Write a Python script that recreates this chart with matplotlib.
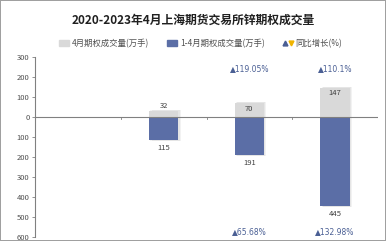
import numpy as np
import matplotlib.pyplot as plt
from matplotlib.lines import Line2D
from matplotlib.patches import Patch
from matplotlib.legend_handler import HandlerTuple

plt.rcParams['font.family'] = ['Noto Sans CJK SC', 'DejaVu Sans']

# data
years = ['2020', '2021', '2022', '2023']
apr_vol = [0, 32, 70, 147]          # 4月期权成交量(万手)
ytd_vol = [0, 115, 191, 445]        # 1-4月期权成交量(万手)
apr_yoy = [None, None, '119.05%', '110.1%']
ytd_yoy = [None, None, '65.68%', '132.98%']
yticks = [300, 200, 100, 0, -100, -200, -300, -400, -500, -600]

gray = '#d9d9d9'
blue = '#5b6ea6'
txt = '#404040'
anno = '#4a5f94'

fig = plt.figure(figsize=(3.86, 2.41), dpi=100)
fig.patch.set_edgecolor('#a0a0a0')
fig.patch.set_linewidth(1.2)
ax = fig.add_axes([0.091, 0.017, 0.888, 0.746])

x = np.arange(len(years))
w = 0.34
# soft shadow behind the bars
for i in x:
    if apr_vol[i]:
        for d, a in [(0.03, 0.05), (0.015, 0.05)]:
            ax.bar(i + d, apr_vol[i] + 4, w, color='#000000', alpha=a, zorder=1)
            ax.bar(i + d, -ytd_vol[i] - 5, w, color='#000000', alpha=a, zorder=1)
ax.bar(x, apr_vol, w, color=gray, zorder=2)
ax.bar(x, [-v for v in ytd_vol], w, color=blue, zorder=2)

for i in x:
    if not apr_vol[i]:
        continue
    if apr_vol[i] > 50:
        ax.text(i, apr_vol[i] - 8, str(apr_vol[i]), ha='center', va='top', fontsize=5.5, color=txt, zorder=3)
    else:
        ax.text(i, apr_vol[i] + 3, str(apr_vol[i]), ha='center', va='bottom', fontsize=5.5, color=txt, zorder=3)
    ax.text(i, -ytd_vol[i] - 18, str(ytd_vol[i]), ha='center', va='top', fontsize=5.5, color=txt, zorder=3)
    if apr_yoy[i]:
        ax.text(i, 245, '▲' + apr_yoy[i], ha='center', va='center', fontsize=5.5, color=anno,
                family=['DejaVu Sans'])
    if ytd_yoy[i]:
        ax.text(i, -573, '▲' + ytd_yoy[i], ha='center', va='center', fontsize=5.5, color=anno,
                family=['DejaVu Sans'])

ax.set_xlim(-0.5, 3.5)
ax.set_ylim(-600, 300)
ax.set_yticks(yticks)
ax.set_yticklabels([str(abs(v)) for v in yticks], fontsize=5.5, color='#505050')
ax.axhline(0, color='#808080', lw=0.8, zorder=2)
for b in [0.5, 1.5, 2.5]:
    ax.plot([b, b], [0, -8], color='#808080', lw=0.6)
ax.set_xticks([])
for s in ['top', 'right', 'bottom']:
    ax.spines[s].set_visible(False)
ax.spines['left'].set_color('#808080')
ax.spines['left'].set_linewidth(0.8)
ax.tick_params(axis='y', length=2, width=0.6, color='#808080', pad=2)

fig.text(0.5, 0.915, '2020-2023年4月上海期货交易所锌期权成交量', ha='center', va='center',
         fontsize=8.5, fontweight='bold', color='#202020')

up = Line2D([], [], marker='^', ls='', color=anno, markersize=3.5)
down = Line2D([], [], marker='v', ls='', color='#f0b400', markersize=3.5)
handles = [Patch(color=gray), Patch(color=blue), (up, down)]
labels = ['4月期权成交量(万手)', '1-4月期权成交量(万手)', '同比增长(%)']
leg = fig.legend(handles, labels, loc='center', bbox_to_anchor=(0.52, 0.82), ncol=3,
                 frameon=False, fontsize=6, handlelength=1.2, handleheight=0.7,
                 handletextpad=0.3, columnspacing=2.2, labelcolor='#505050',
                 handler_map={tuple: HandlerTuple(ndivide=None, pad=0.1)})

fig.savefig('out.png', dpi=100, edgecolor=fig.get_edgecolor())
